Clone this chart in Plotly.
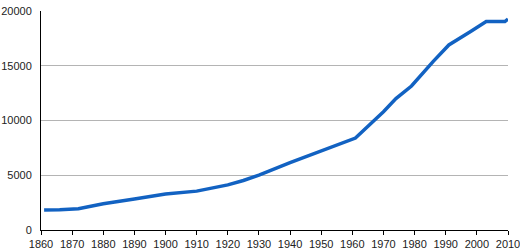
import plotly.graph_objects as go

years = [1861, 1866, 1872, 1880, 1890, 1900, 1910, 1920, 1925, 1930, 1940, 1950, 1961, 1967, 1970, 1974, 1979, 1986, 1991, 1998, 2003, 2009, 2010]
population = [1820, 1840, 1950, 2400, 2840, 3280, 3550, 4120, 4520, 5020, 6150, 7260, 8400, 10000, 10800, 12000, 13150, 15400, 16900, 18120, 19030, 19030, 19270]

x_ticks = list(range(1860, 2011, 10))
y_ticks = [0, 5000, 10000, 15000, 20000]

fig = go.Figure()
fig.add_trace(go.Scatter(x=years, y=population, mode="lines",
                         line=dict(color="#1262c2", width=3.5),
                         hoverinfo="skip"))

fig.update_layout(
    width=520, height=250,
    margin=dict(l=41, r=12, t=11, b=20),
    paper_bgcolor="white", plot_bgcolor="white",
    showlegend=False,
    font=dict(family="Liberation Sans, Arial, sans-serif", size=11, color="#222"),
)
fig.update_xaxes(range=[1860, 2010], tickvals=x_ticks, ticktext=[str(t) for t in x_ticks],
                 showgrid=False, showline=True, linecolor="black", linewidth=1,
                 ticks="outside", ticklen=4, tickcolor="black", zeroline=False,
                 automargin=False, ticklabeloverflow="allow",
                 tickfont=dict(size=11))
fig.update_yaxes(range=[0, 20000], tickvals=y_ticks, ticktext=[str(t) for t in y_ticks],
                 showgrid=True, gridcolor="#b4b4b4", gridwidth=1,
                 showline=True, linecolor="black", linewidth=1,
                 ticks="", zeroline=False, ticklabelstandoff=6,
                 automargin=False, ticklabeloverflow="allow",
                 tickfont=dict(size=11))

fig.write_html("out.html")
